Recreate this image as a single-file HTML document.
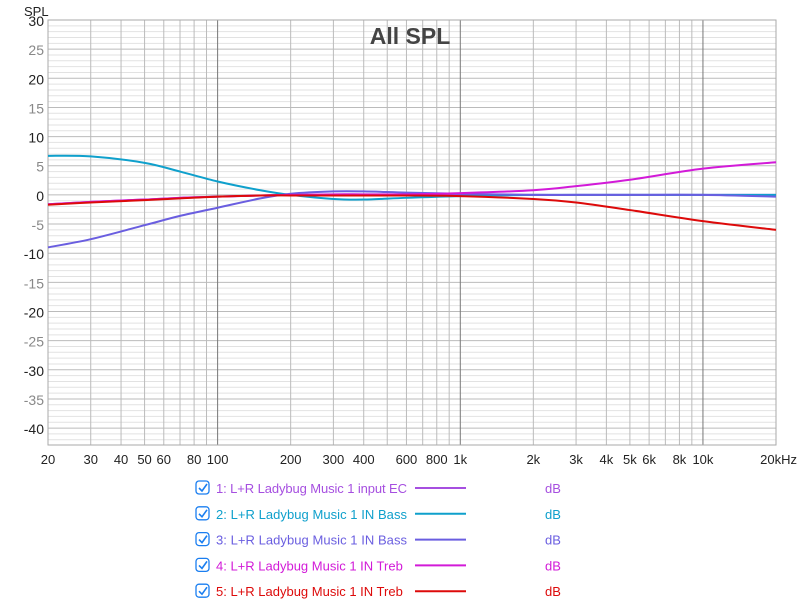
<!DOCTYPE html>
<html><head><meta charset="utf-8"><style>
body{margin:0;background:#fff;width:800px;height:606px;overflow:hidden;font-family:"Liberation Sans",sans-serif}
svg text{font-family:"Liberation Sans",sans-serif}
</style></head><body>
<svg id="chart" width="800" height="606" xmlns="http://www.w3.org/2000/svg">
<g id="grid"></g>
<g id="curves"></g>
<text x="410" y="44" text-anchor="middle" font-size="23" font-weight="bold" fill="#444">All SPL</text>
<text x="24" y="16" font-size="13" fill="#222">SPL</text>
<g id="legend"></g>
</svg>
<script>
const freqs=[20,30,50,70,100,150,200,300,400,600,1000,2000,3000,5000,10000,20000];
const sInput=[-1.6,-1.2,-0.8,-0.5,-0.3,-0.1,0,0,0,0,0,0,0,0,0,0];
const sBassBoost=[6.7,6.6,5.5,4.0,2.3,0.8,0,-0.7,-0.8,-0.5,-0.2,0,0,0,0,0];
const sBassCut=[-9,-7.6,-5.2,-3.6,-2.2,-0.6,0.2,0.6,0.6,0.4,0.2,0,0,0,0,-0.3];
const sTrebBoost=[-1.6,-1.2,-0.8,-0.5,-0.3,-0.1,0,0.1,0.1,0.1,0.3,0.8,1.5,2.6,4.5,5.6];
const sTrebCut=[-1.7,-1.3,-0.9,-0.6,-0.3,-0.1,-0.1,-0.1,-0.1,-0.1,-0.2,-0.7,-1.3,-2.6,-4.5,-6.0];
const yTicks=[30,25,20,15,10,5,0,-5,-10,-15,-20,-25,-30,-35,-40];
const xTickVals=[20,30,40,50,60,80,100,200,300,400,600,800,1000,2000,3000,4000,5000,6000,8000,10000,20000];
const xTickLabels=["20","30","40","50","60","80","100","200","300","400","600","800","1k","2k","3k","4k","5k","6k","8k","10k","20kHz"];
const seriesNames=["1: L+R Ladybug Music 1 input EC","2: L+R Ladybug Music 1 IN Bass","3: L+R Ladybug Music 1 IN Bass","4: L+R Ladybug Music 1 IN Treb","5: L+R Ladybug Music 1 IN Treb"];
const seriesColors=["#a64fe0","#0fa0cc","#6a5ee0","#d21ad8","#dd0a0a"];
const seriesData=[sInput,sBassBoost,sBassCut,sTrebBoost,sTrebCut];
const L=48,R=776,T=20,B=445,yMax=30,yMin=-42.9;
const xs=f=>L+(Math.log10(f)-Math.log10(20))/(Math.log10(20000)-Math.log10(20))*(R-L);
const ys=v=>T+(yMax-v)/(yMax-yMin)*(B-T);
const NS="http://www.w3.org/2000/svg";
function mk(tag,attrs,parent){const e=document.createElementNS(NS,tag);for(const k in attrs)e.setAttribute(k,attrs[k]);parent.appendChild(e);return e;}
const grid=document.getElementById('grid');
for(let v=30;v>=-42;v--){
  const c=v%5===0?"#bbb":"#e2e2e2";
  const l=mk('line',{x1:L,x2:R,y1:ys(v),y2:ys(v),stroke:c,'stroke-width':1},grid);
  
}
for(let d=10;d<=10000;d*=10){for(let m=1;m<10;m++){const f=d*m;if(f<20||f>20000)continue;
  const dark=(f===100||f===1000||f===10000);
  const l=mk('line',{x1:xs(f),x2:xs(f),y1:T,y2:B,stroke:dark?"#777":"#bbb",'stroke-width':1},grid);
  }}
const fr=mk('rect',{x:L,y:T,width:R-L,height:B-T,fill:'none',stroke:'#aaa'},grid);

yTicks.forEach(v=>{const t=mk('text',{x:44,y:ys(v)+6,'text-anchor':'end','font-size':14,fill:v%10===0?'#222':'#888'},grid);t.textContent=v;
  });
xTickVals.forEach((f,i)=>{let x=xs(f);const t=mk('text',{x:x,y:464,'text-anchor':'middle','font-size':13,fill:'#222'},grid);
  if(i===xTickLabels.length-1){t.setAttribute('text-anchor','end');t.setAttribute('x',797);}
  t.textContent=xTickLabels[i];});
function pathFor(arr){
  const p=freqs.map((f,i)=>[xs(f),ys(arr[i])]);
  let d="M"+p[0][0]+","+p[0][1];
  for(let i=0;i<p.length-1;i++){const p0=p[Math.max(0,i-1)],p1=p[i],p2=p[i+1],p3=p[Math.min(p.length-1,i+2)];
    const c1=[p1[0]+(p2[0]-p0[0])/6,p1[1]+(p2[1]-p0[1])/6],c2=[p2[0]-(p3[0]-p1[0])/6,p2[1]-(p3[1]-p1[1])/6];
    d+=` C${c1[0]},${c1[1]} ${c2[0]},${c2[1]} ${p2[0]},${p2[1]}`;}
  return d;}
const curves=document.getElementById('curves');
seriesData.forEach((arr,i)=>{const p=mk('path',{d:pathFor(arr),fill:'none',stroke:seriesColors[i],'stroke-width':2},curves);
  });
const lg=document.getElementById('legend');
seriesNames.forEach((n,i)=>{const y=488+i*25.8;
  const g=mk('g',{},lg);
  const cb=mk('rect',{x:196,y:y-7,width:13,height:13,rx:3,fill:'#fff',stroke:'#1a7ef0','stroke-width':1.3},g);
  
  mk('path',{d:`M199,${y} l3,3 l5,-7`,fill:'none',stroke:'#1a7ef0','stroke-width':1.6},g);
  const t=mk('text',{x:216,y:y+5,'font-size':13,fill:seriesColors[i],textLength:i<3?191:0},g);if(i>=3)t.removeAttribute('textLength');
  t.textContent=n;
  const ln=mk('line',{x1:415,x2:466,y1:y,y2:y,stroke:seriesColors[i],'stroke-width':2},g);
  
  const u=mk('text',{x:545,y:y+5,'font-size':13,fill:seriesColors[i]},g);u.textContent='dB';
  
});
</script>
</body></html>
